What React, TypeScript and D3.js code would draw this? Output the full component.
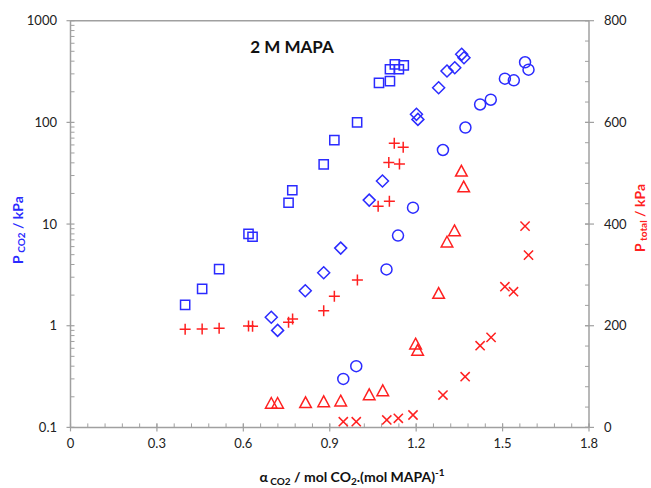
import React from "react";
import * as d3 from "d3";

// ---- Data ----
// Blue, left axis: P_CO2 (kPa)
const alphaSq = [0.398, 0.457, 0.516, 0.618, 0.632, 0.757, 0.770, 0.879, 0.916, 0.995, 1.071, 1.109, 1.109, 1.126, 1.140, 1.157];
const pco2Sq = [1.6, 2.3, 3.6, 8.0, 7.5, 16.2, 21.5, 38.7, 67, 100, 245, 255, 333, 372, 333, 364];

const alphaDi = [0.697, 0.719, 0.815, 0.879, 0.938, 1.037, 1.083, 1.201, 1.206, 1.278, 1.307, 1.334, 1.358, 1.366];
const pco2Di = [1.21, 0.9, 2.21, 3.32, 5.8, 17.2, 26.5, 120, 107, 219, 320, 345, 467, 432];

const alphaCi = [0.947, 0.992, 1.097, 1.137, 1.189, 1.293, 1.371, 1.422, 1.459, 1.508, 1.539, 1.578, 1.59];
const pco2Ci = [0.3, 0.4, 3.58, 7.7, 14.5, 53.5, 89, 150, 167, 269, 259, 390, 330];

// Red, right axis: P_total (kPa)
const alphaPl = [0.398, 0.457, 0.516, 0.618, 0.632, 0.757, 0.771, 0.879, 0.916, 0.996, 1.068, 1.107, 1.105, 1.142, 1.124, 1.155];
const ptotPl = [193, 193.5, 195, 199.4, 198.8, 206.7, 213.2, 229.5, 257.8, 290, 435, 445, 521, 518, 559, 551];

const alphaTr = [0.697, 0.719, 0.816, 0.879, 0.938, 1.037, 1.084, 1.198, 1.205, 1.278, 1.307, 1.333, 1.357, 1.365];
const ptotTr = [47.4, 47.4, 48.6, 50.5, 51.9, 64.3, 72.2, 164, 151.6, 263.7, 364.6, 386.8, 504, 473];

const alphaX = [0.947, 0.992, 1.098, 1.138, 1.189, 1.293, 1.37, 1.422, 1.46, 1.508, 1.538, 1.578, 1.59];
const ptotX = [11.2, 11.2, 14.6, 17.9, 24.4, 63.7, 99.7, 160.7, 177.2, 276.7, 266.9, 396, 339];

const xTicks = [0, 0.3, 0.6, 0.9, 1.2, 1.5, 1.8];
const xTickLabels = ["0", "0.3", "0.6", "0.9", "1.2", "1.5", "1.8"];
const yLeftTicks = [0.1, 1, 10, 100, 1000];
const yLeftTickLabels = ["0.1", "1", "10", "100", "1000"];
const yRightTicks = [0, 200, 400, 600, 800];
const yRightTickLabels = ["0", "200", "400", "600", "800"];

const titleText = "2 M MAPA";

const BLUE = "#2B2BFF";
const RED = "#FF2020";
const AXIS = "#A0A0A0";
const FONT = "Lato, 'Open Sans', 'Liberation Sans', sans-serif";

export default function App() {
  const W = 651, H = 488;
  const left = 70.5, right = 589, top = 20.7, bottom = 427.4;

  const x = d3.scaleLinear().domain([0, 1.8]).range([left, right]);
  const yL = d3.scaleLog().domain([0.1, 1000]).range([bottom, top]);
  const yR = d3.scaleLinear().domain([0, 800]).range([bottom, top]);

  const xMinor = d3.range(0, 1.8001, 0.06);
  const yLMinor: number[] = [];
  for (let e = -1; e < 3; e++) for (let m = 2; m <= 9; m++) yLMinor.push(m * Math.pow(10, e));
  const yRMinor = d3.range(0, 800.001, 40);

  const sq = (cx: number, cy: number, s = 4.6) =>
    `M${cx - s},${cy - s}H${cx + s}V${cy + s}H${cx - s}Z`;
  const di = (cx: number, cy: number, s = 6) =>
    `M${cx},${cy - s}L${cx + s},${cy}L${cx},${cy + s}L${cx - s},${cy}Z`;
  const tr = (cx: number, cy: number, s = 5.8) =>
    `M${cx},${cy - s}L${cx + s},${cy + s * 0.85}L${cx - s},${cy + s * 0.85}Z`;
  const pl = (cx: number, cy: number, s = 5.5) =>
    `M${cx - s},${cy}H${cx + s}M${cx},${cy - s}V${cy + s}`;
  const cr = (cx: number, cy: number, s = 4.6) =>
    `M${cx - s},${cy - s}L${cx + s},${cy + s}M${cx - s},${cy + s}L${cx + s},${cy - s}`;

  return (
    <svg width={W} height={H} style={{ position: "absolute", left: 0, top: 0, background: "#fff" }} fontFamily={FONT}>
      {/* frame */}
      <line x1={left} x2={right} y1={top} y2={top} stroke={AXIS} strokeWidth={1.5} />
      <line x1={left} x2={right} y1={bottom} y2={bottom} stroke={AXIS} strokeWidth={1.5} />
      <line x1={left} x2={left} y1={top} y2={bottom} stroke={AXIS} strokeWidth={1.5} />
      <line x1={right} x2={right} y1={top} y2={bottom} stroke={AXIS} strokeWidth={1.5} />

      {/* x ticks */}
      {xMinor.map((v, i) => (
        <line key={"xm" + i} x1={x(v)} x2={x(v)} y1={bottom} y2={bottom - 4} stroke={AXIS} strokeWidth={1} />
      ))}
      {xTicks.map((v, i) => (
        <g key={"xt" + i}>
          <line x1={x(v)} x2={x(v)} y1={bottom - 4} y2={bottom + 4} stroke={AXIS} strokeWidth={1.2} />
          <text x={x(v)} y={bottom + 21} textAnchor="middle" fontSize={13} fill="#222">{xTickLabels[i]}</text>
        </g>
      ))}

      {/* left ticks */}
      {yLMinor.map((v, i) => (
        <line key={"ylm" + i} x1={left} x2={left + 4} y1={yL(v)} y2={yL(v)} stroke={AXIS} strokeWidth={1} />
      ))}
      {yLeftTicks.map((v, i) => (
        <g key={"ylt" + i}>
          <line x1={left - 4} x2={left + 4} y1={yL(v)} y2={yL(v)} stroke={AXIS} strokeWidth={1.2} />
          <text x={57} y={yL(v) + 4.5} textAnchor="end" fontSize={13} fill="#222">{yLeftTickLabels[i]}</text>
        </g>
      ))}

      {/* right ticks */}
      {yRMinor.map((v, i) => (
        <line key={"yrm" + i} x1={right - 4} x2={right} y1={yR(v)} y2={yR(v)} stroke={AXIS} strokeWidth={1} />
      ))}
      {yRightTicks.map((v, i) => (
        <g key={"yrt" + i}>
          <line x1={right - 4} x2={right + 5} y1={yR(v)} y2={yR(v)} stroke={AXIS} strokeWidth={1.2} />
          <text x={604} y={yR(v) + 4.5} textAnchor="start" fontSize={13} fill="#222">{yRightTickLabels[i]}</text>
        </g>
      ))}

      {/* title */}
      <text x={292} y={53} textAnchor="middle" fontSize={17} fontWeight="bold" fill="#111">{titleText}</text>

      {/* series */}
      <g fill="none" strokeWidth={1.5}>
        {alphaSq.map((a, i) => <path key={"s" + i} d={sq(x(a), yL(pco2Sq[i]))} stroke={BLUE} />)}
        {alphaDi.map((a, i) => <path key={"d" + i} d={di(x(a), yL(pco2Di[i]))} stroke={BLUE} />)}
        {alphaCi.map((a, i) => <circle key={"c" + i} cx={x(a)} cy={yL(pco2Ci[i])} r={5.5} stroke={BLUE} />)}
        {alphaPl.map((a, i) => <path key={"p" + i} d={pl(x(a), yR(ptotPl[i]))} stroke={RED} />)}
        {alphaTr.map((a, i) => <path key={"t" + i} d={tr(x(a), yR(ptotTr[i]))} stroke={RED} />)}
        {alphaX.map((a, i) => <path key={"x" + i} d={cr(x(a), yR(ptotX[i]))} stroke={RED} />)}
      </g>

      {/* axis titles */}
      <text x={352} y={482} textAnchor="middle" fontSize={14} fontWeight="bold" fill="#111">
        <tspan>α</tspan>
        <tspan fontSize={10} dy={3}> CO2</tspan>
        <tspan dy={-3}> / mol CO</tspan>
        <tspan fontSize={10} dy={3}>2</tspan>
        <tspan dy={-3}>.(mol MAPA)</tspan>
        <tspan fontSize={10} dy={-6}>-1</tspan>
      </text>
      <text transform="translate(23,230) rotate(-90)" textAnchor="middle" fontSize={14} fontWeight="bold" fill={BLUE}>
        <tspan>P</tspan>
        <tspan fontSize={10} dy={2}> CO2</tspan>
        <tspan dy={-2}> / kPa</tspan>
      </text>
      <text transform="translate(645,218) rotate(-90)" textAnchor="middle" fontSize={14} fontWeight="bold" fill={RED}>
        <tspan>P</tspan>
        <tspan fontSize={10} dy={2}> total</tspan>
        <tspan dy={-2}> / kPa</tspan>
      </text>
    </svg>
  );
}
